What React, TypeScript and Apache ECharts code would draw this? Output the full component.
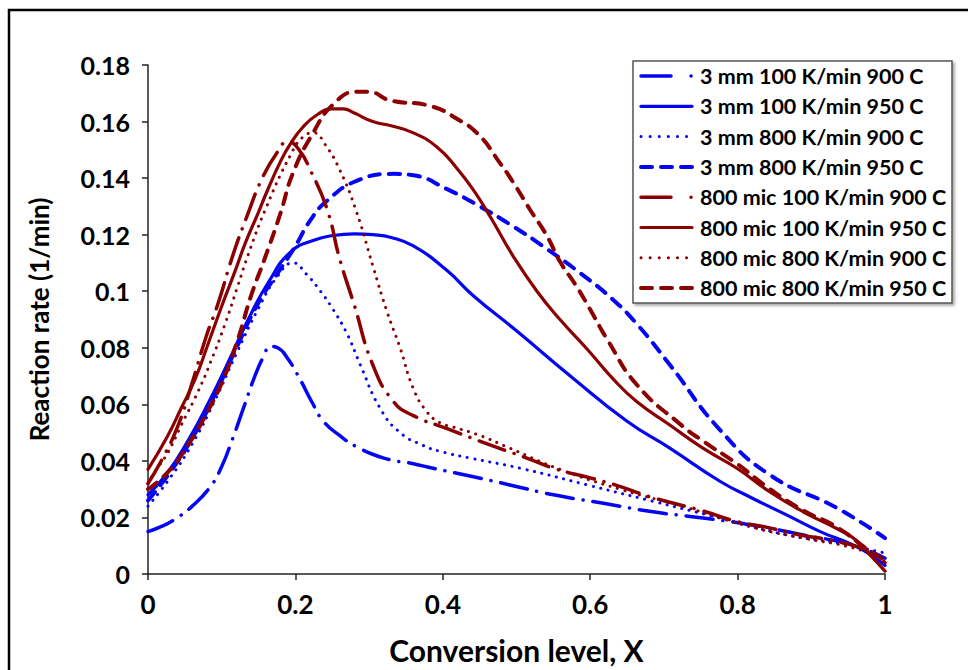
import React, { useEffect, useRef } from "react";
import * as echarts from "echarts";

const SERIES_NAMES = [
  "3 mm 100 K/min 900 C",
  "3 mm 100 K/min 950 C",
  "3 mm 800 K/min 900 C",
  "3 mm 800 K/min 950 C",
  "800 mic 100 K/min 900 C",
  "800 mic 100 K/min 950 C",
  "800 mic 800 K/min 900 C",
  "800 mic 800 K/min 950 C",
];

const X_TICKS = [0, 0.2, 0.4, 0.6, 0.8, 1];
const Y_TICKS = [0, 0.02, 0.04, 0.06, 0.08, 0.1, 0.12, 0.14, 0.16, 0.18];

// 3 mm 100 K/min 900 C
const mm3_100_900 = [
  [0, 0.015], [0.02, 0.017], [0.039, 0.0198], [0.06, 0.024], [0.085, 0.031], [0.1, 0.038],
  [0.115, 0.048], [0.13, 0.059], [0.145, 0.07], [0.157, 0.077], [0.166, 0.0805], [0.176, 0.08],
  [0.19, 0.076], [0.206, 0.069], [0.222, 0.061], [0.238, 0.054], [0.26, 0.049], [0.283, 0.045],
  [0.32, 0.041], [0.36, 0.039], [0.387, 0.0374], [0.44, 0.0345], [0.491, 0.0315], [0.55, 0.028],
  [0.618, 0.025], [0.685, 0.022], [0.753, 0.0198], [0.82, 0.0173], [0.889, 0.0138], [0.957, 0.0102],
  [1, 0.0056],
];
// 3 mm 100 K/min 950 C
const mm3_100_950 = [
  [0, 0.028], [0.027, 0.036], [0.054, 0.047], [0.081, 0.06], [0.109, 0.075], [0.136, 0.09],
  [0.163, 0.103], [0.194, 0.114], [0.225, 0.118], [0.251, 0.1197], [0.28, 0.1203], [0.305, 0.12],
  [0.33, 0.119], [0.36, 0.116], [0.405, 0.1075], [0.441, 0.0985], [0.5, 0.086], [0.573, 0.07],
  [0.65, 0.054], [0.708, 0.0445], [0.776, 0.0328], [0.82, 0.0268], [0.867, 0.0208], [0.912, 0.015],
  [0.957, 0.0102], [0.985, 0.006], [1, 0.003],
];
// 3 mm 800 K/min 900 C
const mm3_800_900 = [
  [0, 0.024], [0.03, 0.034], [0.06, 0.046], [0.09, 0.061], [0.12, 0.078], [0.15, 0.094],
  [0.175, 0.105], [0.197, 0.11], [0.215, 0.106], [0.234, 0.1], [0.25, 0.094], [0.27, 0.085],
  [0.288, 0.074], [0.315, 0.0586], [0.342, 0.05], [0.373, 0.0455], [0.396, 0.0434], [0.437, 0.041],
  [0.505, 0.0374], [0.596, 0.0315], [0.685, 0.0257], [0.776, 0.0198], [0.867, 0.0138], [0.935, 0.011],
  [1, 0.0074],
];
// 3 mm 800 K/min 950 C
const mm3_800_950 = [
  [0, 0.026], [0.03, 0.036], [0.06, 0.048], [0.09, 0.063], [0.12, 0.08], [0.15, 0.096],
  [0.175, 0.106], [0.2, 0.116], [0.22, 0.125], [0.243, 0.132], [0.283, 0.139], [0.333, 0.1415],
  [0.36, 0.141], [0.405, 0.1362], [0.45, 0.13], [0.495, 0.123], [0.541, 0.115], [0.586, 0.1065],
  [0.631, 0.097], [0.663, 0.0885], [0.708, 0.074], [0.776, 0.051], [0.844, 0.035], [0.935, 0.0233],
  [1, 0.0127],
];
// 800 mic 100 K/min 900 C
const mic800_100_900 = [
  [0, 0.032], [0.02, 0.041], [0.04, 0.052], [0.058, 0.066], [0.079, 0.084], [0.095, 0.0956],
  [0.115, 0.1126], [0.135, 0.127], [0.155, 0.14], [0.175, 0.149], [0.19, 0.153], [0.205, 0.15],
  [0.22, 0.143], [0.243, 0.129], [0.26, 0.1115], [0.28, 0.095], [0.305, 0.074], [0.333, 0.061],
  [0.36, 0.056], [0.405, 0.0515], [0.45, 0.047], [0.514, 0.041], [0.555, 0.037], [0.6, 0.034],
  [0.64, 0.031], [0.685, 0.027], [0.749, 0.0226], [0.8, 0.0185], [0.84, 0.0165], [0.885, 0.0138],
  [0.935, 0.0115], [0.98, 0.008], [1, 0.004],
];
// 800 mic 100 K/min 950 C
const mic800_100_950 = [
  [0, 0.037], [0.027, 0.049], [0.045, 0.0586], [0.064, 0.069], [0.081, 0.081], [0.099, 0.094],
  [0.118, 0.107], [0.132, 0.117], [0.15, 0.128], [0.161, 0.135], [0.18, 0.146], [0.193, 0.152],
  [0.21, 0.158], [0.23, 0.1625], [0.25, 0.1645], [0.265, 0.1645], [0.28, 0.163], [0.305, 0.16],
  [0.33, 0.1585], [0.36, 0.156], [0.392, 0.151], [0.419, 0.1435], [0.441, 0.136], [0.464, 0.1265],
  [0.495, 0.1126], [0.528, 0.0999], [0.559, 0.09], [0.596, 0.0795], [0.631, 0.069], [0.663, 0.061],
  [0.708, 0.0527], [0.753, 0.0445], [0.799, 0.0374], [0.844, 0.029], [0.889, 0.022], [0.935, 0.016],
  [0.957, 0.0127], [0.98, 0.0067], [1, 0.001],
];
// 800 mic 800 K/min 900 C
const mic800_800_900 = [
  [0, 0.032], [0.009, 0.036], [0.027, 0.043], [0.045, 0.0526], [0.068, 0.0646], [0.085, 0.075],
  [0.104, 0.088], [0.122, 0.102], [0.136, 0.113], [0.161, 0.13], [0.193, 0.148], [0.21, 0.1545],
  [0.225, 0.156], [0.24, 0.152], [0.26, 0.143], [0.283, 0.128], [0.305, 0.109], [0.324, 0.093],
  [0.342, 0.08], [0.36, 0.0656], [0.378, 0.0575], [0.396, 0.0535], [0.414, 0.052], [0.45, 0.049],
  [0.491, 0.0445], [0.559, 0.037], [0.64, 0.03], [0.731, 0.0235], [0.82, 0.0165], [0.889, 0.0127],
  [0.957, 0.0092], [1, 0.005],
];
// 800 mic 800 K/min 950 C
const mic800_800_950 = [
  [0, 0.03], [0.027, 0.036], [0.054, 0.0455], [0.081, 0.0575], [0.104, 0.07], [0.122, 0.083],
  [0.14, 0.0985], [0.159, 0.112], [0.179, 0.127], [0.197, 0.142], [0.224, 0.156], [0.251, 0.166],
  [0.283, 0.1705], [0.3, 0.1705], [0.328, 0.1675], [0.383, 0.1655], [0.419, 0.161], [0.45, 0.155],
  [0.473, 0.147], [0.495, 0.1387], [0.518, 0.129], [0.541, 0.1197], [0.559, 0.1105], [0.582, 0.1015],
  [0.6, 0.0935], [0.623, 0.083], [0.663, 0.067], [0.722, 0.053], [0.753, 0.047], [0.799, 0.039],
  [0.844, 0.03], [0.889, 0.0225], [0.935, 0.0165], [0.98, 0.008], [1, 0.005],
];

const SERIES_DATA = [
  mm3_100_900, mm3_100_950, mm3_800_900, mm3_800_950,
  mic800_100_900, mic800_100_950, mic800_800_900, mic800_800_950,
];

const BLUE = "#0505f2";
const RED = "#8b0000";
const FONT = "Lato";

const STYLES = [
  { color: BLUE, width: 3.5, type: [27, 10, 0.1, 10], legendDash: [30, 20, 0.1, 20] },
  { color: BLUE, width: 3.2, type: "solid", legendDash: null },
  { color: BLUE, width: 3, type: [0.1, 7.5], legendDash: [0.1, 9] },
  { color: BLUE, width: 4, type: [11, 9], legendDash: [11, 9] },
  { color: RED, width: 3.5, type: [27, 10, 0.1, 10], legendDash: [30, 20, 0.1, 20] },
  { color: RED, width: 3.2, type: "solid", legendDash: null },
  { color: RED, width: 3, type: [0.1, 7.5], legendDash: [0.1, 9] },
  { color: RED, width: 4, type: [11, 9], legendDash: [11, 9] },
];

export default function App() {
  const ref = useRef<HTMLDivElement>(null);
  useEffect(() => {
    if (!ref.current) return;
    const chart = echarts.init(ref.current, null, { renderer: "svg" });
    const series = SERIES_NAMES.map((name, i) => ({
      name,
      type: "line",
      data: SERIES_DATA[i],
      showSymbol: false,
      symbol: "none",
      smooth: 0.5,
      z: 2,
      lineStyle: {
        color: STYLES[i].color,
        width: STYLES[i].width,
        type: STYLES[i].type,
        cap: "round",
        join: "round",
      },
      itemStyle: { color: STYLES[i].color },
    }));

    const legendX = 633;
    const legendY = 61;
    const rowY0 = 76;
    const rowStep = 30.3;
    const legendItems: any[] = [];
    SERIES_NAMES.forEach((name, i) => {
      const y = rowY0 + i * rowStep;
      const st = STYLES[i];
      legendItems.push({
        type: "line",
        z: 11,
        silent: true,
        shape: { x1: 641, y1: y, x2: 692, y2: y },
        style: {
          stroke: st.color,
          lineWidth: st.width,
          lineDash: st.legendDash || undefined,
          lineCap: "round",
        },
      });
      legendItems.push({
        type: "text",
        z: 11,
        silent: true,
        x: 700,
        y: y,
        style: {
          text: name,
          fill: "#000",
          font: `bold 21.5px ${FONT}`,
          verticalAlign: "middle",
          align: "left",
        },
      });
    });

    chart.setOption({
      animation: false,
      backgroundColor: "#fff",
      textStyle: { fontFamily: FONT },
      grid: { left: 148, right: 83, top: 65, bottom: 94, containLabel: false },
      xAxis: {
        type: "value",
        min: X_TICKS[0],
        max: X_TICKS[X_TICKS.length - 1],
        interval: 0.2,
        name: "Conversion level, X",
        nameLocation: "middle",
        nameGap: 61,
        nameTextStyle: { fontFamily: FONT, fontWeight: "bold", fontSize: 30, color: "#000" },
        axisLine: { lineStyle: { color: "#222", width: 1.5 } },
        axisTick: { show: true, inside: false, length: 6, lineStyle: { color: "#222", width: 1.5 } },
        axisLabel: { margin: 17, fontFamily: FONT, fontWeight: "bold", fontSize: 26, color: "#000" },
        splitLine: { show: false },
      },
      yAxis: {
        type: "value",
        min: Y_TICKS[0],
        max: Y_TICKS[Y_TICKS.length - 1],
        interval: 0.02,
        name: "Reaction rate (1/min)",
        nameLocation: "middle",
        nameGap: 96,
        nameRotate: 90,
        nameTextStyle: { fontFamily: FONT, fontWeight: "bold", fontSize: 26, color: "#000" },
        axisLine: { show: true, lineStyle: { color: "#222", width: 1.5 } },
        axisTick: { show: true, inside: false, length: 6, lineStyle: { color: "#222", width: 1.5 } },
        axisLabel: { margin: 18, fontFamily: FONT, fontWeight: "bold", fontSize: 25, color: "#000" },
        splitLine: { show: false },
      },
      graphic: [
        {
          type: "polyline",
          z: 0,
          silent: true,
          shape: { points: [[9, 690], [9, 10], [990, 10]] },
          style: { stroke: "#000", lineWidth: 2.5, fill: null },
        },
        {
          type: "rect",
          z: 10,
          silent: true,
          shape: { x: legendX, y: legendY, width: 319, height: 242 },
          style: {
            fill: "#fff",
            stroke: "#555",
            lineWidth: 1.5,
            shadowBlur: 3,
            shadowOffsetX: 2,
            shadowOffsetY: 2,
            shadowColor: "rgba(0,0,0,0.35)",
          },
        },
        ...legendItems,
      ],
      series,
    });
    return () => chart.dispose();
  }, []);
  return (
    <div
      ref={ref}
      style={{ position: "fixed", left: 0, top: 0, width: 968, height: 670, background: "#fff" }}
    />
  );
}
